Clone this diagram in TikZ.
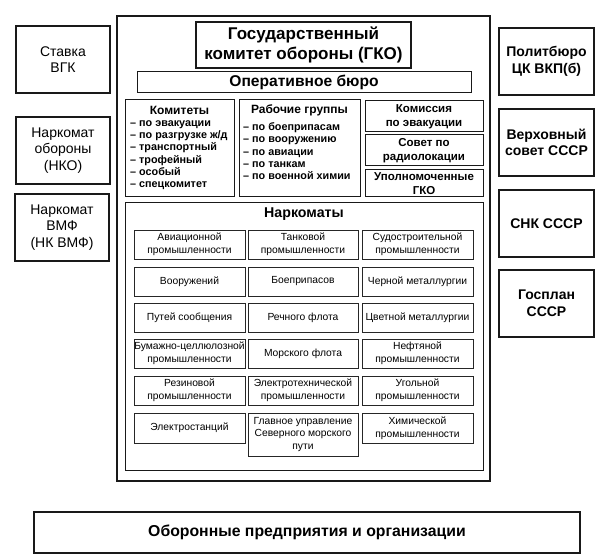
\documentclass[tikz,border=0pt]{standalone}
\usepackage{fontspec}
\setmainfont{Liberation Sans}
\newcommand\mybox[7]{%
 \pgfmathsetmacro\cxx{(#2+#4)/2}\pgfmathsetmacro\cyy{(#3+#5)/2}%
 \pgfmathsetmacro\ww{#4-#2}\pgfmathsetmacro\hh{#5-#3}%
 \node[#6, minimum width=\ww pt, minimum height=\hh pt] (#1) at (\cxx,\cyy) {#7};}
\tikzset{
 bigbox/.style={draw=black!90, line width=1.2pt, inner sep=0pt, align=center},
 midbox/.style={draw=black!90, line width=1pt, inner sep=0pt, align=center},
 cell/.style={draw=black!85, line width=0.8pt, inner sep=0pt, align=center, font=\fontsize{10.3}{12.6}\selectfont},
 sidel/.style={bigbox, font=\fontsize{14}{16.5}\selectfont},
 sider/.style={bigbox, font=\bfseries\fontsize{14}{16.5}\selectfont},
 rcol/.style={midbox, font=\bfseries\fontsize{11.5}{13.5}\selectfont},
 lst/.style={anchor=north west, inner sep=0pt, align=left, font=\bfseries\fontsize{10.8}{12.2}\selectfont},
 hdr/.style={inner sep=0pt, font=\bfseries\fontsize{12}{14}\selectfont},
}
\begin{document}
\begin{tikzpicture}[x=1pt,y=-1pt]
\useasboundingbox (0,0) rectangle (611,556);
% outer frame
\mybox{outer}{117}{16}{490}{481}{bigbox}{}
\mybox{gko}{196}{22}{411}{68}{bigbox, font=\bfseries\fontsize{17}{20}\selectfont}{Государственный\\комитет обороны (ГКО)}
\mybox{ob}{137}{72}{471}{93}{midbox, font=\bfseries\fontsize{15.6}{17}\selectfont}{Оперативное бюро}
% committees
\mybox{kom}{125}{100}{234}{197}{midbox}{}
\node[hdr] (komh) at (179.5,110) {Комитеты};
\node[lst] (koml) at (130,120.5) {– по эвакуации\\– по разгрузке ж/д\\– транспортный\\– трофейный\\– особый\\– спецкомитет};
\mybox{rg}{239}{100}{360}{197}{midbox}{}
\node[hdr] (rgh) at (299.5,110) {Рабочие группы};
\node[lst] (rgl) at (243,122.5) {– по боеприпасам\\– по вооружению\\– по авиации\\– по танкам\\– по военной химии};
\mybox{kev}{365}{101}{483}{132}{rcol}{Комиссия\\по эвакуации}
\mybox{srl}{365}{135}{483}{166}{rcol}{Совет по\\радиолокации}
\mybox{upl}{365}{170}{483}{197}{rcol}{Уполномоченные\\ГКО}
% narkomats
\mybox{nk}{125}{203}{483}{470}{midbox}{}
\node[hdr, font=\bfseries\fontsize{14.2}{16}\selectfont] (nkh) at (304,214) {Наркоматы};
\mybox{c11}{134}{230}{245}{259}{cell}{Авиационной\\промышленности}
\mybox{c12}{248}{230}{358}{259}{cell}{Танковой\\промышленности}
\mybox{c13}{362}{230}{473}{259}{cell}{Судостроительной\\промышленности}
\mybox{c21}{134}{267}{245}{296}{cell}{Вооружений}
\mybox{c22}{248}{267}{358}{296}{cell}{Боеприпасов}
\mybox{c23}{362}{267}{473}{296}{cell}{Черной металлургии}
\mybox{c31}{134}{303}{245}{332}{cell}{Путей сообщения}
\mybox{c32}{248}{303}{358}{332}{cell}{Речного флота}
\mybox{c33}{362}{303}{473}{332}{cell}{Цветной металлургии}
\mybox{c41}{134}{339}{245}{368}{cell}{Бумажно-целлюлозной\\промышленности}
\mybox{c42}{248}{339}{358}{368}{cell}{Морского флота}
\mybox{c43}{362}{339}{473}{368}{cell}{Нефтяной\\промышленности}
\mybox{c51}{134}{376}{245}{405}{cell}{Резиновой\\промышленности}
\mybox{c52}{248}{376}{358}{405}{cell}{Электротехнической\\промышленности}
\mybox{c53}{362}{376}{473}{405}{cell}{Угольной\\промышленности}
\mybox{c61}{134}{413}{245}{443}{cell}{Электростанций}
\mybox{c62}{248}{413}{358}{456}{cell}{Главное управление\\Северного морского\\пути}
\mybox{c63}{362}{413}{473}{443}{cell}{Химической\\промышленности}
% left
\mybox{stavka}{16}{26}{110}{93}{sidel}{Ставка\\ВГК}
\mybox{nko}{16}{117}{110}{184}{sidel}{Наркомат\\обороны\\(НКО)}
\mybox{nkvmf}{15}{194}{109}{261}{sidel}{Наркомат\\ВМФ\\(НК ВМФ)}
% right
\mybox{pb}{499}{28}{594}{95}{sider}{Политбюро\\ЦК ВКП(б)}
\mybox{vs}{499}{109}{594}{176}{sider}{Верховный\\совет СССР}
\mybox{snk}{499}{190}{594}{257}{sider}{СНК СССР}
\mybox{gp}{499}{270}{594}{337}{sider}{Госплан\\СССР}
% bottom
\mybox{opo}{34}{512}{580}{553}{bigbox, font=\bfseries\fontsize{15.8}{17}\selectfont}{Оборонные предприятия и организации}
\end{tikzpicture}
\end{document}
